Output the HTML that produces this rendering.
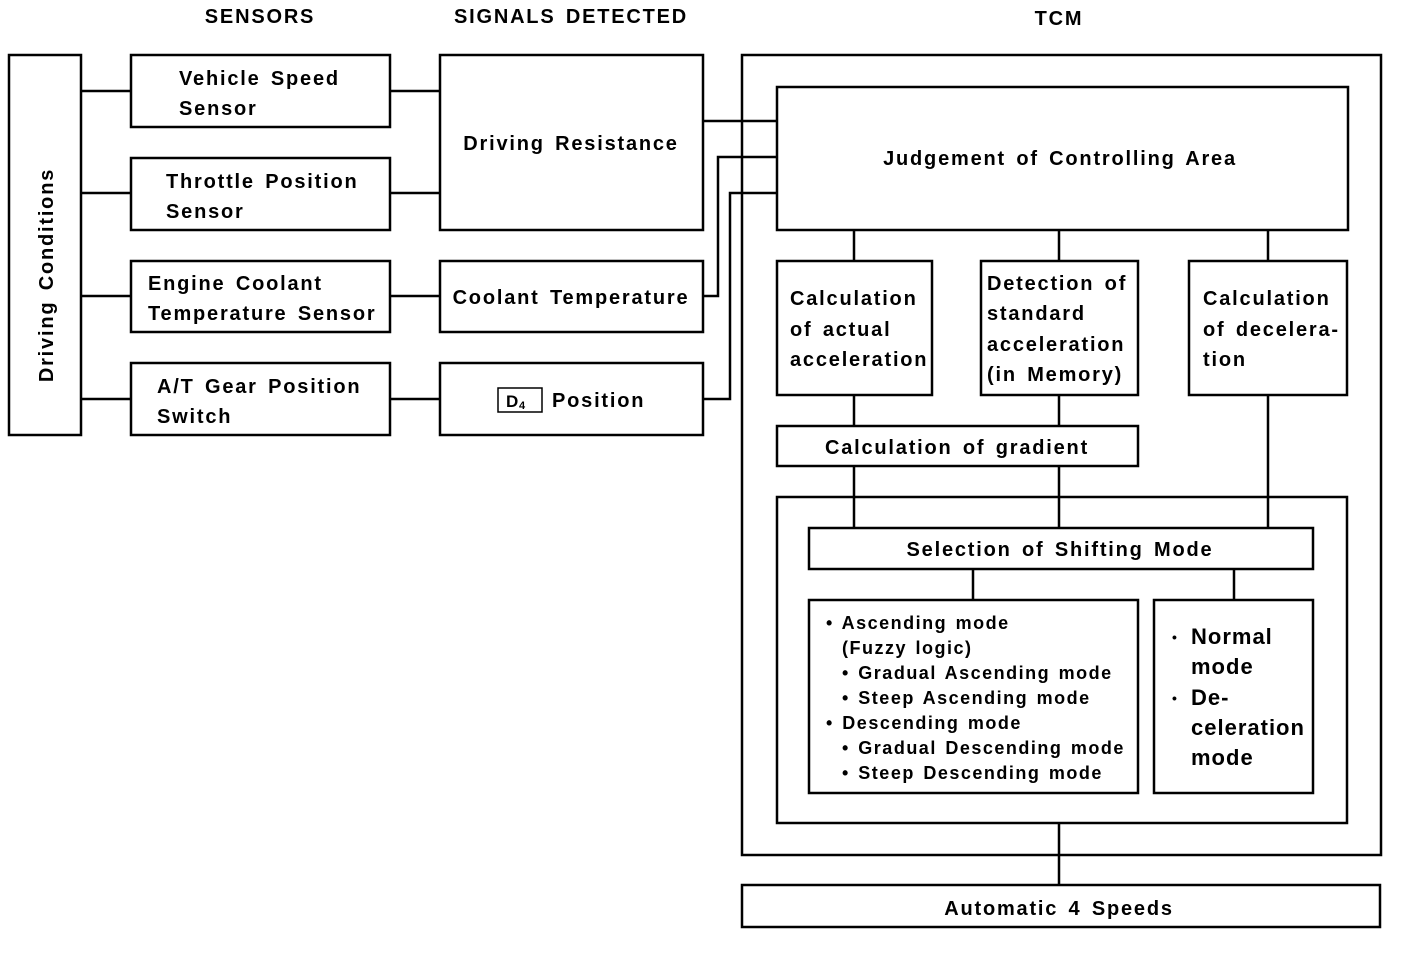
<!DOCTYPE html>
<html><head><meta charset="utf-8"><style>
html,body{margin:0;padding:0;background:#fff;}
svg{display:block;}
text{font-family:"Liberation Sans",Arial,sans-serif;font-weight:bold;font-size:20px;fill:#000;letter-spacing:1.8px;word-spacing:3px;}
.s{font-size:18px;letter-spacing:1.5px;word-spacing:2px;}
.b{font-size:22px;letter-spacing:1px;}
</style></head><body>
<svg width="1408" height="964" viewBox="0 0 1408 964" xmlns="http://www.w3.org/2000/svg">
<g fill="none" stroke="#000" stroke-width="2.5">
<rect x="9" y="55" width="72" height="380"/>
<rect x="131" y="55" width="259" height="72"/>
<rect x="131" y="158" width="259" height="72"/>
<rect x="131" y="261" width="259" height="71"/>
<rect x="131" y="363" width="259" height="72"/>
<rect x="440" y="55" width="263" height="175"/>
<rect x="440" y="261" width="263" height="71"/>
<rect x="440" y="363" width="263" height="72"/>
<rect x="498" y="388" width="44" height="24" stroke-width="1.5"/>
<path d="M81 91H131M81 193H131M81 296H131M81 399H131M390 91H440M390 193H440M390 296H440M390 399H440"/>
<path d="M703 121H777M703 296H718V157H777M703 399H730V193H777"/>
<rect x="742" y="55" width="639" height="800"/>
<rect x="777" y="87" width="571" height="143"/>
<rect x="777" y="261" width="155" height="134"/>
<rect x="981" y="261" width="157" height="134"/>
<rect x="1189" y="261" width="158" height="134"/>
<rect x="777" y="426" width="361" height="40"/>
<rect x="777" y="497" width="570" height="326"/>
<rect x="809" y="528" width="504" height="41"/>
<rect x="809" y="600" width="329" height="193"/>
<rect x="1154" y="600" width="159" height="193"/>
<rect x="742" y="885" width="638" height="42"/>
<path d="M854 230V261M1059 230V261M1268 230V261M854 395V426M1059 395V426M854 466V528M1059 466V528M1268 395V528M973 569V600M1234 569V600M1059 823V885"/>
</g>
<text x="260" y="23" text-anchor="middle">SENSORS</text>
<text x="571" y="23" text-anchor="middle">SIGNALS DETECTED</text>
<text x="1059" y="25" text-anchor="middle">TCM</text>
<text transform="translate(53,275) rotate(-90)" text-anchor="middle">Driving Conditions</text>
<text x="179" y="85">Vehicle Speed</text>
<text x="179" y="115">Sensor</text>
<text x="166" y="188">Throttle Position</text>
<text x="166" y="218">Sensor</text>
<text x="148" y="290">Engine Coolant</text>
<text x="148" y="320">Temperature Sensor</text>
<text x="157" y="393">A/T Gear Position</text>
<text x="157" y="423">Switch</text>
<text x="571" y="150" text-anchor="middle">Driving Resistance</text>
<text x="571" y="304" text-anchor="middle">Coolant Temperature</text>
<text x="506" y="407" style="font-size:17px;letter-spacing:0">D</text><text x="519" y="409" style="font-size:11px;letter-spacing:0">4</text>
<text x="552" y="407">Position</text>
<text x="1060" y="165" text-anchor="middle">Judgement of Controlling Area</text>
<text x="790" y="305">Calculation</text>
<text x="790" y="336">of actual</text>
<text x="790" y="366">acceleration</text>
<text x="987" y="290">Detection of</text>
<text x="987" y="320">standard</text>
<text x="987" y="351">acceleration</text>
<text x="987" y="381">(in Memory)</text>
<text x="1203" y="305">Calculation</text>
<text x="1203" y="336">of decelera-</text>
<text x="1203" y="366">tion</text>
<text x="957" y="454" text-anchor="middle">Calculation of gradient</text>
<text x="1060" y="556" text-anchor="middle">Selection of Shifting Mode</text>
<text class="s" x="826" y="629">• Ascending mode</text>
<text class="s" x="842" y="654">(Fuzzy logic)</text>
<text class="s" x="842" y="679">• Gradual Ascending mode</text>
<text class="s" x="842" y="704">• Steep Ascending mode</text>
<text class="s" x="826" y="729">• Descending mode</text>
<text class="s" x="842" y="754">• Gradual Descending mode</text>
<text class="s" x="842" y="779">• Steep Descending mode</text>
<text x="1172" y="642" style="font-size:14px">•</text>
<text class="b" x="1191" y="644">Normal</text>
<text class="b" x="1191" y="674">mode</text>
<text x="1172" y="703" style="font-size:14px">•</text>
<text class="b" x="1191" y="705">De-</text>
<text class="b" x="1191" y="735">celeration</text>
<text class="b" x="1191" y="765">mode</text>
<text x="1059" y="915" text-anchor="middle">Automatic 4 Speeds</text>
</svg>
</body></html>
